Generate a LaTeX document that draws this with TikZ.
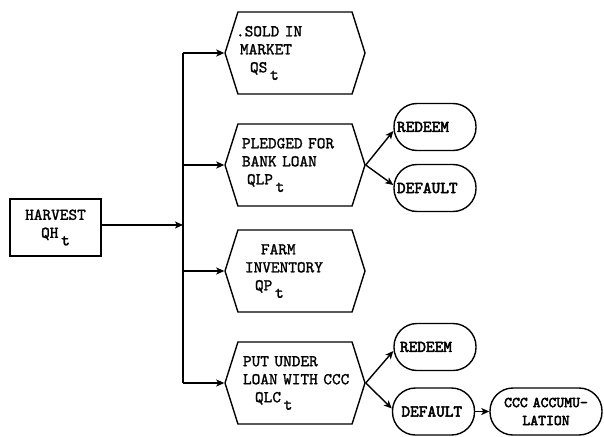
\documentclass[tikz,border=0pt]{standalone}
\usepackage{fontspec}
\newfontfamily\hexfont{lmmono10-regular.otf}[FakeBold=1.5]
\newfontfamily\ovalfont{lmmono10-regular.otf}[FakeBold=3]
\usetikzlibrary{shapes.symbols,arrows.meta}
\newcommand{\lowt}{\,\raisebox{-7.5pt}{t}}
\begin{document}
\begin{tikzpicture}[x=1pt,y=-1pt,
  line width=1.4pt,
  every node/.style={font=\hexfont\fontsize{16.5}{18}\selectfont},
  arr/.style={-{Stealth[length=8pt,width=7pt,inset=2pt]}},
  hexa/.style={draw, line width=1.4pt, shape=signal, signal to=west and east,
    signal pointer angle=145, minimum width=140pt, minimum height=82pt,
    inner sep=0pt, text width=114pt, align=left},
  oval/.style={draw, line width=1.4pt, rounded corners=23pt, minimum width=82pt,
    minimum height=47pt, text width=76pt, inner xsep=3pt, inner ysep=0pt, align=left,
    font=\ovalfont\fontsize{16.5}{18}\selectfont},
  sqbox/.style={draw, line width=1.4pt, minimum width=91pt, minimum height=57pt,
    inner sep=0pt, align=center}
]
\useasboundingbox (0,0) rectangle (604,436);

\node[sqbox] (harvest) at (55.5,227.5) {HARVEST\\QH\lowt};

\node[hexa] (sold) at (295,53) {\hspace{-2pt}.SOLD~IN\\\hspace{2pt}MARKET\\\hspace{12pt}QS\lowt};
\node[hexa] (pledged) at (295,165) {\hspace{4pt}PLEDGED~FOR\\\hspace{4pt}BANK~LOAN\\\hspace{9pt}QLP\lowt};
\node[hexa] (farm) at (295,271) {\hspace{23pt}FARM\\\hspace{7pt}INVENTORY\\\hspace{17pt}QP\lowt};
\node[hexa] (put) at (295,383) {\hspace{5pt}PUT~UNDER\\\hspace{5pt}LOAN~WITH~CCC\\\hspace{17pt}QLC\lowt};

\node[oval] (redeemA) at (435,127) {REDEEM};
\node[oval] (defaultA) at (435,188) {DEFAULT};
\node[oval] (redeemB) at (435,347) {\hspace{3pt}REDEEM};
\node[oval] (defaultB) at (433.5,411.5) {\hspace{6pt}DEFAULT};
\node[oval, minimum width=112pt, text width=106pt, align=center,
  font=\ovalfont\fontsize{15}{18}\selectfont] (ccc) at (546,411.5) {CCC ACCUMU-\\LATION};

\coordinate (jS) at (183,53);
\coordinate (jP) at (183,165);
\coordinate (jH) at (183,225);
\coordinate (jF) at (183,271);
\coordinate (jL) at (183,383);

\draw (jS) -- (jL);
\draw[arr] (harvest.east |- jH) -- (jH);
\draw[arr] (jS) -- (sold.west);
\draw[arr] (jP) -- (pledged.west);
\draw[arr] (jF) -- (farm.west);
\draw[arr] (jL) -- (put.west);

\draw[arr] (pledged.east) -- ([yshift=-4pt]redeemA.west);
\draw[arr] (pledged.east) -- ([yshift=3pt]defaultA.west);
\draw[arr] (put.east) -- ([yshift=-4pt]redeemB.west);
\draw[arr] (put.east) -- ([yshift=3pt]defaultB.west);
\draw[arr] (defaultB.east) -- (ccc.west);
\end{tikzpicture}
\end{document}
